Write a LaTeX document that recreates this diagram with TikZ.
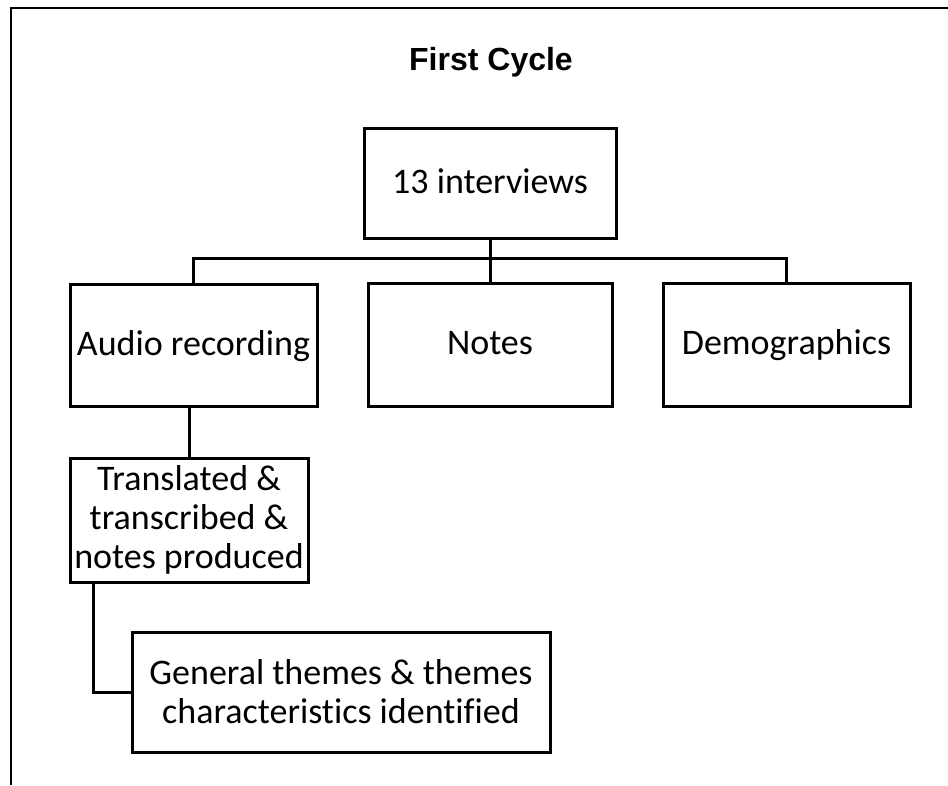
\documentclass[tikz,border=0pt]{standalone}
\usepackage{fontspec}
\setmainfont[Ligatures=NoCommon]{Carlito}
\newfontfamily\titlefont{Liberation Sans}
\begin{document}
\begin{tikzpicture}[x=1pt,y=-1pt,
  box/.style={draw=black, line width=3pt, rectangle, inner sep=0pt,
    align=center, font=\fontsize{36}{39}\selectfont},
  oneline/.style={text height=26pt, text depth=6pt},
  link/.style={draw=black, line width=3pt},
  frame/.style={draw=black, line width=2.4pt}]
  \useasboundingbox (0,0) rectangle (948,785);

  % outer frame (top and left edges)
  \coordinate (frameTR) at (948,8);
  \coordinate (frameTL) at (11,8);
  \coordinate (frameBL) at (11,785);
  \draw[frame] (frameTR) -- (frameTL) -- (frameBL);

  % title
  \node (title) at (491,62) {\titlefont\bfseries\fontsize{32}{36}\selectfont First Cycle};

  % boxes
  \node[box, oneline, minimum width=252pt, minimum height=110pt] (top) at (490,183) {13 interviews};
  \node[box, oneline, minimum width=247pt, minimum height=122pt] (audio) at (193.5,345) {Audio recording};
  \node[box, oneline, minimum width=244pt, minimum height=123pt] (notes) at (490,344.5) {Notes};
  \node[box, oneline, minimum width=247pt, minimum height=123pt] (demo) at (786.5,344.5) {Demographics};
  \node[box, minimum width=238pt, minimum height=124pt] (trans) at (189,520)
    {Translated \&\\transcribed \&\\notes produced};
  \node[box, minimum width=418pt, minimum height=120pt] (gen) at (341,692)
    {General themes \& themes\\characteristics identified};

  % connectors
  \coordinate (bus) at (490,258);
  \coordinate (elbow) at (93,582);
  \draw[link] (top.south) -- (notes.north);
  \draw[link] (audio.north) -- (audio.north |- bus) -- (demo.north |- bus) -- (demo.north);
  \draw[link] (trans.north) -- (trans.north |- audio.south);
  \draw[link] (elbow) |- (gen.west);
\end{tikzpicture}
\end{document}
